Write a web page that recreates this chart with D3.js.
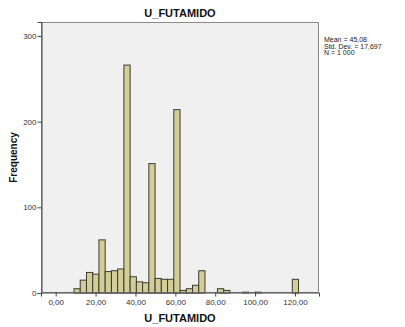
<!DOCTYPE html>
<html>
<head>
<meta charset="utf-8">
<script src="https://cdn.jsdelivr.net/npm/d3@7"></script>
<style>
  html, body { margin: 0; padding: 0; background: #ffffff; }
  svg { display: block; font-family: "Liberation Sans", Arial, sans-serif; }
</style>
</head>
<body>
<svg id="chart" width="405" height="327"></svg>
<script>
// Histogram of U_FUTAMIDO: 36 equal-width bins
const variableName = "U_FUTAMIDO";
const binStart = 9.18;
const binWidth = 3.128;
const binCounts = [5, 15, 24, 22, 62, 25, 26, 28, 266, 19, 13, 12, 151, 17, 16, 16, 214, 3,
                   5, 9, 26, 0, 0, 5, 3, 0, 0, 1, 0, 1, 0, 0, 0, 0, 0, 16];
const xTickValues = [0, 20, 40, 60, 80, 100, 120];
const yTickValues = [0, 100, 200, 300];
const statLines = ["Mean = 45,08", "Std. Dev. = 17,697", "N = 1 000"];

const bins = binCounts.map((c, i) => ({
  x0: binStart + i * binWidth,
  x1: binStart + (i + 1) * binWidth,
  count: c
}));

const svg = d3.select("#chart");
const frame = { left: 41, right: 319, top: 22, bottom: 293 };

const x = d3.scaleLinear().domain([-7.37, 132.05]).range([frame.left, frame.right]);
const y = d3.scaleLinear().domain([0, 316.3]).range([frame.bottom, frame.top]);

// plot background
svg.append("rect")
  .attr("x", frame.left).attr("y", frame.top)
  .attr("width", frame.right - frame.left).attr("height", frame.bottom - frame.top)
  .attr("fill", "#f0f0f0");

// bars
svg.append("g").selectAll("rect")
  .data(bins.filter(d => d.count > 0))
  .join("rect")
  .attr("x", d => x(d.x0))
  .attr("y", d => y(d.count))
  .attr("width", d => x(d.x1) - x(d.x0))
  .attr("height", d => y(0) - y(d.count))
  .attr("fill", "#d3ce97")
  .attr("stroke", "#3b3a30")
  .attr("stroke-width", 1);

// frame border
svg.append("rect")
  .attr("x", frame.left + 0.5).attr("y", frame.top + 0.5)
  .attr("width", frame.right - frame.left - 1).attr("height", frame.bottom - frame.top - 1)
  .attr("fill", "none")
  .attr("stroke", "#8a8a8a");

const fmt = v => d3.format(".2f")(v).replace(".", ",");

// y axis
const yAxis = svg.append("g")
  .attr("transform", `translate(${frame.left + 0.5},0)`)
  .call(d3.axisLeft(y).tickValues(yTickValues).tickSize(4).tickPadding(1).tickFormat(d3.format("d")));
yAxis.select(".domain").attr("stroke", "#444");
yAxis.selectAll(".tick line").attr("stroke", "#444");
yAxis.selectAll(".tick text").attr("font-size", 8).attr("fill", "#333")
  .attr("font-family", "Liberation Sans, Arial, sans-serif");

// x axis
const xAxis = svg.append("g")
  .attr("transform", `translate(0,${frame.bottom - 0.5})`)
  .call(d3.axisBottom(x).tickValues(xTickValues).tickSize(4).tickPadding(3).tickFormat(fmt));
xAxis.select(".domain").attr("stroke", "#444");
xAxis.selectAll(".tick line").attr("stroke", "#444");
xAxis.selectAll(".tick text").attr("font-size", 8).attr("fill", "#333")
  .attr("font-family", "Liberation Sans, Arial, sans-serif");

// titles
const cx = (frame.left + frame.right) / 2;
svg.append("text")
  .attr("x", cx).attr("y", 17)
  .attr("text-anchor", "middle")
  .attr("font-size", 11).attr("font-weight", "bold").attr("fill", "#111")
  .text(variableName);

svg.append("text")
  .attr("x", cx).attr("y", 322)
  .attr("text-anchor", "middle")
  .attr("font-size", 11).attr("font-weight", "bold").attr("fill", "#111")
  .text(variableName);

svg.append("text")
  .attr("transform", `translate(17,${(frame.top + frame.bottom) / 2}) rotate(-90)`)
  .attr("text-anchor", "middle")
  .attr("font-size", 10).attr("font-weight", "bold").attr("fill", "#111")
  .text("Frequency");

// summary statistics
svg.append("g").selectAll("text")
  .data(statLines)
  .join("text")
  .attr("x", 324)
  .attr("y", (d, i) => 42 + i * 6.5)
  .attr("font-size", 7).attr("fill", "#222")
  .text(d => d);
</script>
</body>
</html>
